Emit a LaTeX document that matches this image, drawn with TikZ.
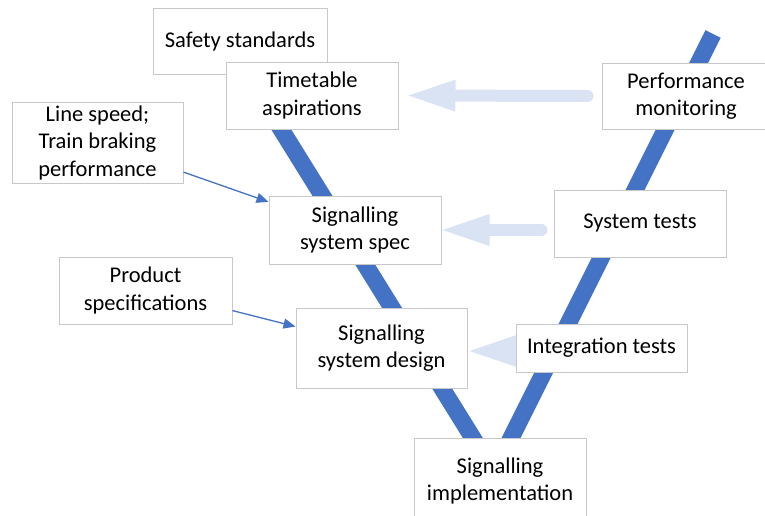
\documentclass[tikz,border=0pt]{standalone}
\usepackage{fontspec}
\setmainfont{Carlito}
\usetikzlibrary{arrows.meta,backgrounds}
\definecolor{vblue}{HTML}{4472C4}
\definecolor{lblue}{HTML}{DAE3F3}
\definecolor{boxgray}{HTML}{C8C8C8}
\begin{document}
\begin{tikzpicture}[x=1pt,y=-1pt,
  box/.style={draw=boxgray,line width=1pt,fill=white,inner sep=0pt,
    align=center,font=\fontsize{22.5}{27.5}\selectfont},
  vline/.style={draw=vblue,line width=17pt,line join=round},
  bigarrow/.style={draw=lblue,line width=12pt,line cap=round,
    -{Triangle[length=47pt,width=32pt,line width=0pt,fill=lblue]}},
  thinarrow/.style={draw=vblue,line width=1.3pt,
    -{Triangle[length=12pt,width=10pt]}}]
\useasboundingbox (0,0) rectangle (765,515);
\node[box,minimum width=174pt,minimum height=66pt] (safety) at (240,41) {Safety standards};
\node[box,minimum width=172pt,minimum height=67pt] (time) at (312,95.5) {Timetable\\aspirations};
\node[box,minimum width=168pt,minimum height=66pt] (perf) at (686,96) {Performance\\monitoring};
\node[box,minimum width=171pt,minimum height=81pt] (ls) at (97.5,142.5) {Line speed;\\Train braking\\performance};
\node[box,minimum width=172pt,minimum height=68pt] (spec) at (355,230) {Signalling\\system spec};
\node[box,minimum width=172pt,minimum height=67pt] (sysT) at (640,223.5) {System tests};
\node[box,minimum width=173pt,minimum height=67pt] (prod) at (145.5,290.5) {Product\\specifications};
\node[box,minimum width=171pt,minimum height=80pt] (design) at (381.5,348) {Signalling\\system design};
\node[box,minimum width=171pt,minimum height=48pt] (integ) at (601.5,348) {Integration tests};
\node[box,minimum width=172pt,minimum height=86pt] (impl) at (500,481) {Signalling\\implementation};
\coordinate (vLeft) at (266,105);
\coordinate (vBot) at (494,472);
\coordinate (vTop) at (713,34);
\begin{scope}[on background layer]
  \draw[vline] (vLeft) -- (vBot) -- (vTop);
  \draw[bigarrow] ([xshift=12pt,yshift=-3pt]integ.west) -- ([xshift=2pt,yshift=-3pt]design.east);
\end{scope}
\draw[bigarrow] ([xshift=-14pt]perf.west) -- ([xshift=10pt]time.east);
\draw[bigarrow] ([xshift=-12pt]spec.east -| sysT.west) -- ([xshift=1pt]spec.east);
\draw[thinarrow] (ls.-19) -- (spec.162);
\draw[thinarrow] (prod.-13.5) -- (design.166);
\end{tikzpicture}
\end{document}
